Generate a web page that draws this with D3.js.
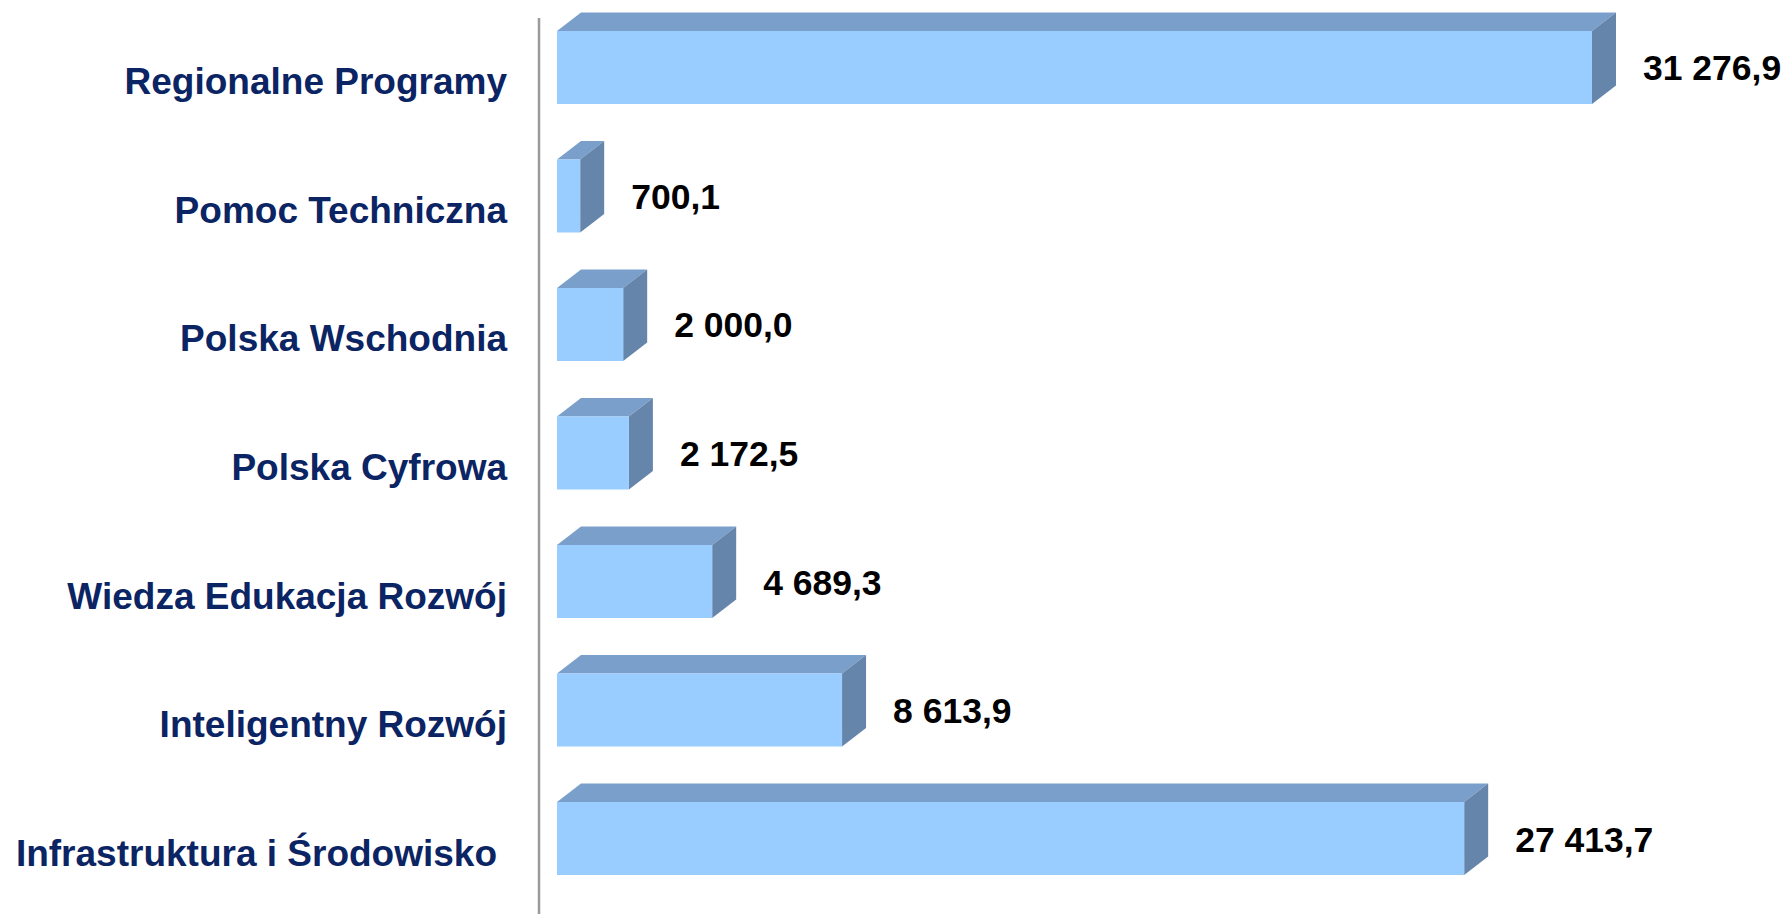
<!DOCTYPE html>
<html>
<head>
<meta charset="utf-8">
<script src="https://d3js.org/d3.v7.min.js"></script>
<style>
  body { margin: 0; background: #fff; }
  text { font-family: "Liberation Sans", Arial, sans-serif; font-weight: bold; }
</style>
</head>
<body>
<script>
// Chart data (mln EUR)
const categories = [
  "Regionalne Programy",
  "Pomoc Techniczna",
  "Polska Wschodnia",
  "Polska Cyfrowa",
  "Wiedza Edukacja Rozwój",
  "Inteligentny Rozwój",
  "Infrastruktura i Środowisko"
];
const values = [31276.9, 700.1, 2000.0, 2172.5, 4689.3, 8613.9, 27413.7];
const valueLabels = ["31 276,9", "700,1", "2 000,0", "2 172,5", "4 689,3", "8 613,9", "27 413,7"];

// Dimensions
const width  = 1791;
const height = 914;
const x0     = 557;     // left edge of bars
const depthX = 24;      // 3d depth
const depthY = 18.5;

const data = categories.map((c, i) => ({ cat: c, value: values[i], label: valueLabels[i] }));

const svg = d3.select("body")
              .append("svg")
              .attr("width", width)
              .attr("height", height);

const x = d3.scaleLinear()
            .domain([0, 35000])
            .range([x0, x0 + 35000 * (1035 / 31276.9)]);

const y = d3.scaleBand()
            .domain(categories)
            .range([5.3, 900.7])
            .paddingInner(0.432)
            .paddingOuter(0.2);

// vertical axis line
svg.append("line")
   .attr("x1", 539).attr("x2", 539)
   .attr("y1", 18).attr("y2", height)
   .attr("stroke", "#9a9a9a")
   .attr("stroke-width", 2.5);

const bars = svg.selectAll("g.bar")
   .data(data)
   .enter()
   .append("g")
   .attr("class", "bar");

// top face
bars.append("path")
    .attr("fill", "#7a9fca")
    .attr("d", d => {
      const l = x(0), r = x(d.value), t = y(d.cat);
      return `M${l},${t}L${l + depthX},${t - depthY}L${r + depthX},${t - depthY}L${r},${t}Z`;
    });

// side face
bars.append("path")
    .attr("fill", "#6685aa")
    .attr("d", d => {
      const r = x(d.value), t = y(d.cat), b = t + y.bandwidth();
      return `M${r},${t}L${r + depthX},${t - depthY}L${r + depthX},${b - depthY}L${r},${b}Z`;
    });

// front face
bars.append("rect")
    .attr("x", x(0))
    .attr("y", d => y(d.cat))
    .attr("width", d => x(d.value) - x(0))
    .attr("height", y.bandwidth())
    .attr("fill", "#99ccff");

// value labels
bars.append("text")
    .attr("x", d => x(d.value) + depthX + 27)
    .attr("y", d => y(d.cat) + y.bandwidth() / 2 + 13)
    .attr("font-size", 35.5)
    .attr("fill", "#000")
    .text(d => d.label);

// category labels
svg.selectAll("text.cat")
   .data(data)
   .enter()
   .append("text")
   .attr("class", "cat")
   .attr("x", (d, i) => i === data.length - 1 ? 497 : 507)
   .attr("y", d => y(d.cat) + y.bandwidth() / 2 + 27)
   .attr("text-anchor", "end")
   .attr("font-size", 37)
   .attr("fill", "#0b2463")
   .text(d => d.cat);
</script>
</body>
</html>
